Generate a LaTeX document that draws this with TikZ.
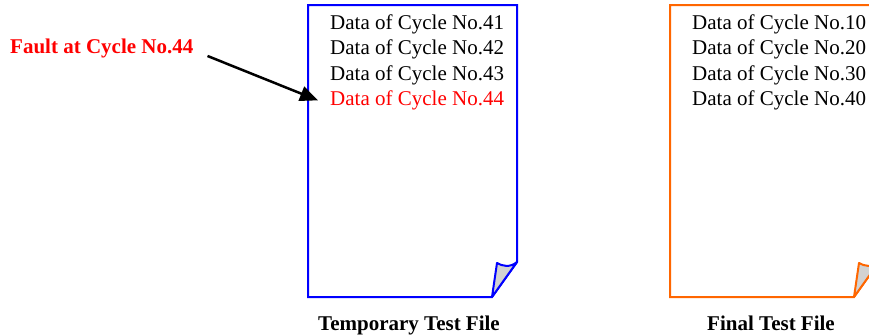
\documentclass[tikz,border=0pt]{standalone}
\usepackage{fontspec}
\setmainfont{Liberation Serif}
\usetikzlibrary{arrows.meta}
\definecolor{fileorange}{RGB}{255,102,0}
\definecolor{curlgray}{RGB}{210,210,210}
\tikzstyle{page}=[line width=2pt,fill=white,line join=miter]
\tikzstyle{curl}=[line width=2pt,fill=curlgray,line join=round]
\tikzstyle{dataline}=[anchor=base west,inner sep=0pt,font=\fontsize{21}{24}\selectfont]
\tikzstyle{caption}=[anchor=base,inner sep=0pt,font=\fontsize{21}{24}\selectfont\bfseries]
\tikzstyle{faultarrow}=[draw,line width=2.5pt,-{Triangle[length=18pt,width=15pt]}]

\begin{document}
\begin{tikzpicture}[x=1pt,y=-1pt]
    \useasboundingbox (0,0) rectangle (869,335);
    \clip (0,0) rectangle (869,335);
    % Draw the two file pages with their folded corner
    \foreach \dx/\col in {0/blue, 362/fileorange} {
        \begin{scope}[xshift=\dx pt]
            \draw[page,draw=\col] (308,5) -- (517,5) -- (517,262) -- (492,297) -- (308,297) -- cycle;
            \draw[curl,draw=\col] (517,262) .. controls (510,268) and (502,266) .. (497,263) -- (492,297) -- cycle;
        \end{scope}
    }
    % Records in the temporary file
    \foreach \y/\name/\num in {29/d41/41, 54.5/d42/42, 80/d43/43}
        \node[dataline] (\name) at (330,\y) {Data of Cycle No.\num};
    \node[dataline,text=red] (d44) at (330,105.5) {Data of Cycle No.44};
    % Records in the final file
    \foreach \y/\name/\num in {29/f10/10, 54.5/f20/20, 80/f30/30, 105.5/f40/40}
        \node[dataline] (\name) at (692,\y) {Data of Cycle No.\num};
    % Captions under the pages
    \node[caption] (temp) at (409,330) {Temporary Test File};
    \node[caption] (final) at (771,330) {Final Test File};
    % Fault marker pointing at the last record
    \node[dataline,font=\fontsize{21}{24}\selectfont\bfseries,text=red] (fault) at (10,53) {Fault at Cycle No.44};
    \path[faultarrow] ([xshift=14pt,yshift=-8pt]fault.east) -- ([xshift=-12pt]d44.west);
\end{tikzpicture}
\end{document}
